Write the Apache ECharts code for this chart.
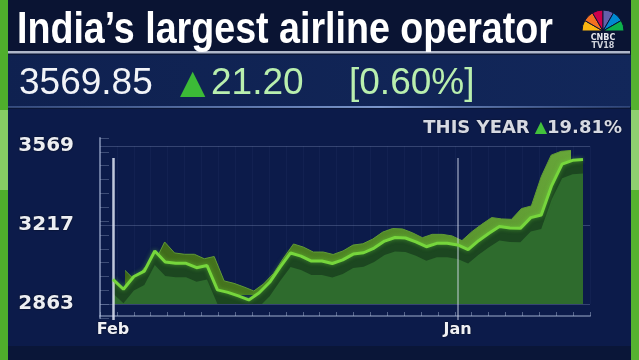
<!DOCTYPE html>
<html><head><meta charset="utf-8">
<script src="https://cdn.jsdelivr.net/npm/echarts@6/dist/echarts.min.js"></script>
<style>html,body{margin:0;padding:0;background:#0a1638}#c{width:639px;height:360px}</style>
</head><body><div id="c"></div>
<script>
const months = ['Feb','Feb','Feb','Mar','Mar','Mar','Apr','Apr','Apr','May','May','May','Jun','Jun','Jun','Jul','Jul','Jul','Aug','Aug','Aug','Sep','Sep','Sep','Oct','Oct','Oct','Nov','Nov','Nov','Dec','Dec','Dec','Jan','Jan','Jan','Feb','Feb','Feb','Mar','Mar','Mar','Apr','Apr','Apr','May'];
const prices = [2973,2929,2986,3010,3100,3051,3045,3045,3025,3035,2926,2915,2899,2881,2913,2960,3028,3091,3077,3055,3055,3044,3060,3086,3092,3113,3144,3160,3158,3141,3119,3134,3134,3127,3106,3146,3179,3209,3203,3201,3249,3261,3392,3488,3505,3509];
const xLabelIndex = [0, 33];
const yTickLabels = ['2863','3217','3569'];
const yMin = 2863, yMax = 3569, yStep = 353;
const titleText = "India\u2019s largest airline operator";
const lastPrice = '3569.85', change = '21.20', changePct = '[0.60%]';
const yearLabel = 'THIS YEAR', yearChange = '19.81%';
const logoSlices = [1,1,1,1,1,1,6];
const logoColors = ['#fcb711','#f37021','#cc004c','#6460aa','#0089d0','#0db14b','rgba(0,0,0,0)'];

const categories = months.map((m,i)=>m+'-'+i);
const chart = echarts.init(document.getElementById('c'));
const unitPx = (yMax - yMin) / 158;
const medMin = yMin + 14 * unitPx;
const hidden = {show:false};
const hiddenX = (gi)=>({type:'category', gridIndex:gi, data:categories, boundaryGap:false, show:false});
const hiddenY = (gi,mn,mx)=>({type:'value', gridIndex:gi, min:mn, max:mx, show:false, splitLine:hidden});

const option = {
  backgroundColor:'#0a1638',
  animation:false,
  graphic:[
    {type:'rect', z:-10, shape:{x:0,y:0,width:639,height:52}, style:{fill:'#0a1433'}},
    {type:'rect', z:-10, shape:{x:0,y:55,width:639,height:52}, style:{fill:new echarts.graphic.LinearGradient(0,0,1,0,[{offset:0,color:'#0f2150'},{offset:1,color:'#12275a'}])}},
    {type:'rect', z:-9, shape:{x:8,y:51,width:622,height:2.5}, style:{fill:'rgba(205,212,228,0.85)'}},
    {type:'rect', z:-9, shape:{x:8,y:106,width:622,height:2}, style:{fill:new echarts.graphic.LinearGradient(0,0,1,0,[{offset:0,color:'rgba(110,140,200,0.4)'},{offset:0.6,color:'rgba(150,180,235,0.8)'},{offset:1,color:'rgba(110,140,200,0.3)'}])}},
    {type:'rect', z:-10, shape:{x:8,y:109,width:623,height:237}, style:{fill:'#0c1b4a'}},
    {type:'rect', z:-8, shape:{x:0,y:0,width:8,height:360}, style:{fill:'#4fae2c'}},
    {type:'rect', z:-7, shape:{x:0,y:110,width:8,height:80}, style:{fill:'#86cc64'}},
    {type:'rect', z:-8, shape:{x:631,y:0,width:8,height:360}, style:{fill:'#55b230'}},
    {type:'rect', z:-7, shape:{x:631,y:110,width:8,height:80}, style:{fill:'#8fd070'}},
    {type:'text', z:5, x:17, y:9, scaleX:0.855, style:{text:titleText, fill:'#ffffff', fontSize:44, fontWeight:'bold', fontFamily:'"Liberation Sans",Arial,sans-serif', verticalAlign:'top', shadowColor:'rgba(0,0,0,0.7)', shadowBlur:3}}
  ],
  title:[
    {text:lastPrice, left:19, top:65, padding:0, textStyle:{color:'#f2f4f8', fontSize:37, fontWeight:'normal', fontFamily:'"Liberation Sans",Arial,sans-serif'}},
    {text:'\u25B2', left:180, top:68, padding:0, textStyle:{color:'#3cba37', fontSize:33, fontFamily:'"DejaVu Sans",sans-serif'}},
    {text:change, left:211, top:65, padding:0, textStyle:{color:'#b9efae', fontSize:37, fontWeight:'normal', fontFamily:'"Liberation Sans",Arial,sans-serif'}},
    {text:changePct, left:349, top:65, padding:0, textStyle:{color:'#b9efae', fontSize:37, fontWeight:'normal', fontFamily:'"Liberation Sans",Arial,sans-serif'}},
    {text:'{a|'+yearLabel+'} {t|\u25B2}{a|'+yearChange+'}', right:17, top:119, padding:0, textStyle:{rich:{
      a:{color:'#d6d9e2', fontSize:18, fontWeight:'bold', fontFamily:'"DejaVu Sans",sans-serif', textShadowColor:'rgba(0,0,0,0.6)', textShadowBlur:2},
      t:{color:'#43c23c', fontSize:16, fontFamily:'"DejaVu Sans",sans-serif'}}}},
    {text:'CNBC', left:603, top:34, textAlign:'center', padding:0, textStyle:{color:'#e8e8ee', fontSize:8, fontWeight:'bold', fontFamily:'"DejaVu Sans",sans-serif'}},
    {text:'TV18', left:603, top:42, textAlign:'center', padding:0, textStyle:{color:'#cfd2da', fontSize:8, fontWeight:'bold', fontFamily:'"DejaVu Sans",sans-serif'}}
  ],
  grid:[
    {left:100, right:49, top:146, bottom:56},
    {left:125, right:68, top:137, bottom:65},
    {left:113, right:56, top:160, bottom:56},
    {left:113, right:56, top:146, bottom:56},
    {left:100, width:1, top:138, bottom:42},
    {left:100, right:49, top:300, bottom:44},
    {left:113, right:56, top:158, bottom:40}
  ],
  xAxis:[
    {type:'value', gridIndex:0, min:0, max:29, interval:1, axisLine:hidden, axisTick:hidden, axisLabel:hidden, splitLine:{show:true, lineStyle:{color:'rgba(120,140,200,0.06)'}}},
    hiddenX(1), hiddenX(2), hiddenX(3),
    {type:'value', gridIndex:4, min:0, max:1, show:false},
    {type:'value', gridIndex:5, min:0, max:29, interval:1, position:'bottom', axisLine:{show:true, lineStyle:{color:'rgba(175,190,220,0.45)', width:2}}, axisTick:{show:true, inside:true, length:4, lineStyle:{color:'rgba(175,190,220,0.45)'}}, axisLabel:hidden, splitLine:hidden},
    {type:'category', gridIndex:6, data:categories, boundaryGap:false, axisLine:hidden, axisTick:hidden, splitLine:hidden,
      axisLabel:{show:true, interval:(idx)=>xLabelIndex.indexOf(idx)>=0, formatter:(v)=>v.split('-')[0], margin:2, color:'#f0f1f5', fontSize:16, fontWeight:'bold', fontFamily:'"DejaVu Sans",sans-serif', textShadowColor:'rgba(0,0,0,0.7)', textShadowBlur:2}}
  ],
  yAxis:[
    {type:'value', gridIndex:0, min:yMin, max:yMax, interval:yStep, axisLine:hidden, axisTick:hidden,
      axisLabel:{show:true, margin:26, formatter:(v,i)=>yTickLabels[i], color:'#eceef3', fontSize:20, fontWeight:'bold', fontFamily:'"DejaVu Sans",sans-serif', textShadowColor:'rgba(0,0,0,0.8)', textShadowBlur:2},
      splitLine:{show:true, lineStyle:{color:'rgba(160,175,215,0.28)', width:1}}},
    hiddenY(1,yMin,yMax), hiddenY(2,medMin,yMax), hiddenY(3,yMin,yMax),
    {type:'value', gridIndex:4, min:0, max:13, interval:1, axisLine:{show:true, lineStyle:{color:'rgba(180,195,225,0.55)', width:2}}, axisTick:{show:true, inside:true, length:9, lineStyle:{color:'rgba(180,195,225,0.3)'}}, axisLabel:hidden, splitLine:hidden},
    hiddenY(5,0,1), hiddenY(6,yMin,yMax)
  ],
  series:[
    {type:'line', xAxisIndex:1, yAxisIndex:1, data:prices, symbol:'none', z:2,
      lineStyle:{color:'#5f9a34', width:1},
      areaStyle:{opacity:1, color:new echarts.graphic.LinearGradient(0,0,1,0,[{offset:0,color:'#3d6619'},{offset:0.5,color:'#4f8524'},{offset:1,color:'#67a639'}])}},
    {type:'line', xAxisIndex:3, yAxisIndex:3, data:prices, symbol:'none', z:3, lineStyle:{width:0}, areaStyle:{opacity:1, color:'#1c4720'}},
    {type:'line', xAxisIndex:2, yAxisIndex:2, data:prices, symbol:'none', z:4, clip:true, lineStyle:{width:0}, areaStyle:{opacity:1, color:'#2e6b2d'}},
    {type:'line', xAxisIndex:3, yAxisIndex:3, data:prices, symbol:'none', z:5, lineStyle:{color:'#76d63c', width:3, shadowColor:'rgba(110,220,60,0.5)', shadowBlur:4}},
    {type:'line', xAxisIndex:6, yAxisIndex:6, data:prices, symbol:'none', z:6, lineStyle:{opacity:0}, silent:true,
      markLine:{silent:true, symbol:['none','none'], label:{show:false}, animation:false,
        data:[{xAxis:xLabelIndex[0], lineStyle:{color:'rgba(225,230,245,0.85)', width:2.5, type:'solid'}},
              {xAxis:xLabelIndex[1], lineStyle:{color:'rgba(215,222,240,0.45)', width:2, type:'solid'}}]}},
    {type:'pie', center:[603,31], radius:[2,21], startAngle:180, clockwise:true, silent:true, label:hidden, labelLine:hidden, z:10,
      data:logoSlices.map((v,i)=>({value:v, itemStyle:{color:logoColors[i], borderColor:i<6?'#0a1433':'rgba(0,0,0,0)', borderWidth:1}}))}
  ]
};
chart.setOption(option);
</script></body></html>
